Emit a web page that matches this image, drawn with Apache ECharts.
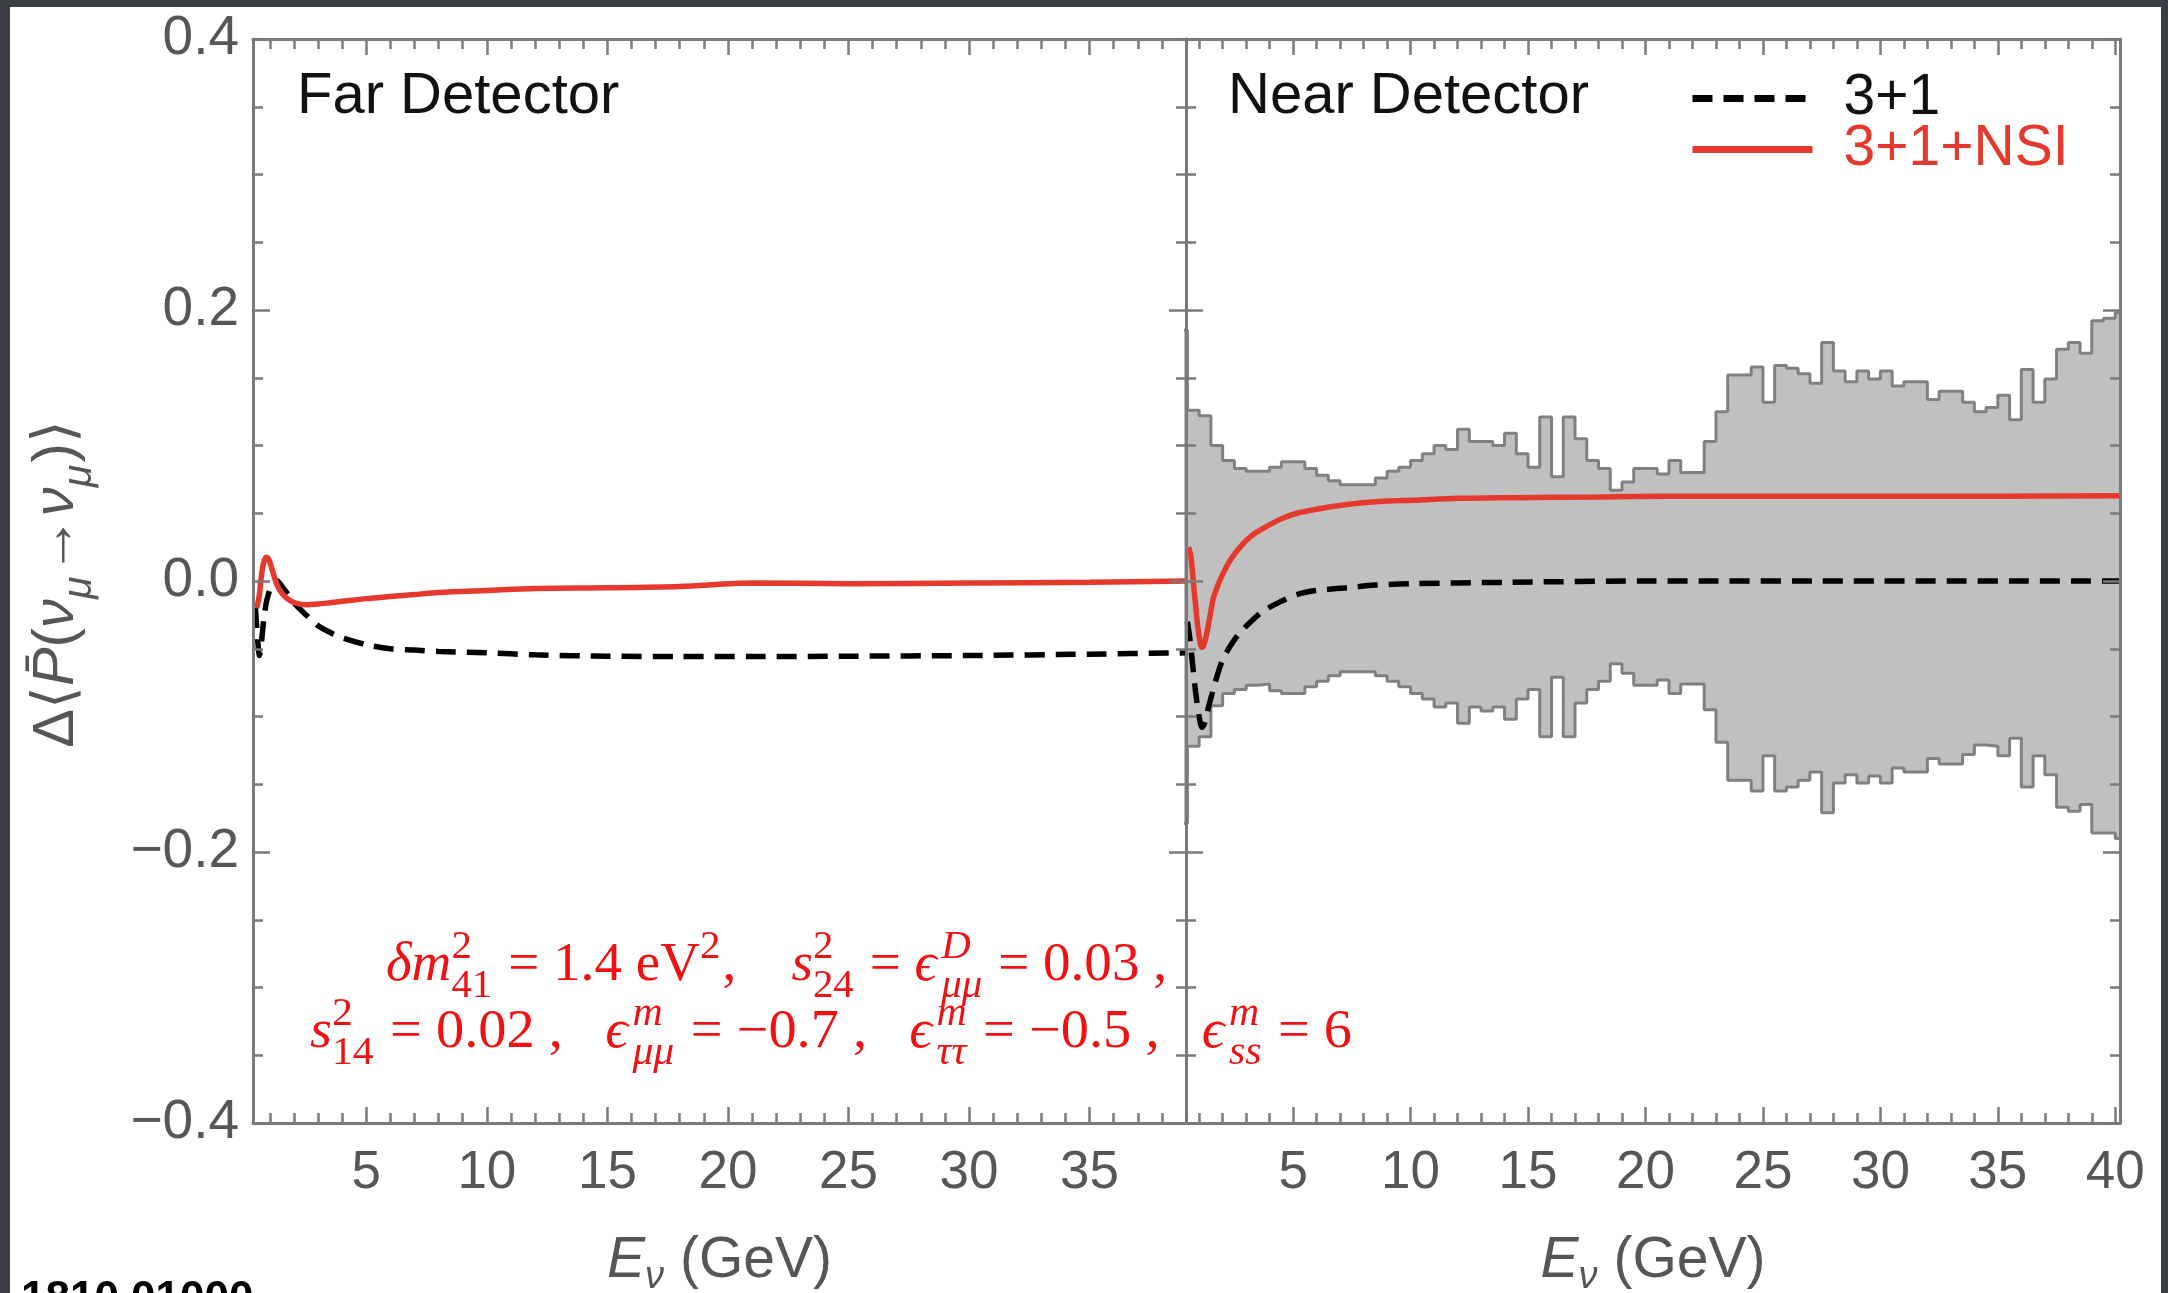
<!DOCTYPE html>
<html>
<head>
<meta charset="utf-8">
<script src="https://cdn.jsdelivr.net/npm/echarts@6/dist/echarts.min.js"></script>
<style>
html,body{margin:0;padding:0;width:2168px;height:1293px;overflow:hidden;background:#3b3e44;}
#paper{position:absolute;left:10px;top:7px;width:2151px;height:1286px;background:#ffffff;}
#chart{position:absolute;left:0;top:0;width:2168px;height:1293px;}
</style>
</head>
<body>
<div id="paper"></div>
<div id="chart"></div>
<script>
// ---------------- data ----------------
const farRange = [0.3, 39.0];
const nearRange = [0.44, 40.2];
const farTickLabels = [5, 10, 15, 20, 25, 30, 35];
const nearTickLabels = [5, 10, 15, 20, 25, 30, 35, 40];
const yTickLabels = [-0.4, -0.2, 0.0, 0.2, 0.4];

// Far detector, 3+1 (dashed black)
const farStdE = [0.4, 0.5, 0.57, 0.65, 0.75, 0.85, 0.95, 1.05, 1.2, 1.3, 1.5, 1.8, 2.1, 2.5, 3.0, 3.5, 4, 5, 6, 7, 8, 10, 12, 15, 18, 21, 25, 30, 35, 39];
const farStdV = [-0.02, -0.045, -0.055, -0.045, -0.028, -0.016, -0.009, -0.004, 0.0, 0.0, -0.004, -0.011, -0.018, -0.025, -0.033, -0.038, -0.042, -0.047, -0.050, -0.051, -0.052, -0.053, -0.0545, -0.0555, -0.0558, -0.0558, -0.0555, -0.055, -0.054, -0.053];
// Far detector, 3+1+NSI (red)
const farNsiE = [0.45, 0.55, 0.65, 0.75, 0.85, 0.95, 1.05, 1.15, 1.3, 1.5, 1.8, 2.1, 2.5, 3.0, 3.5, 4, 5, 6, 7, 8, 10, 12, 15, 18, 21, 25, 30, 35, 39];
const farNsiV = [-0.02, -0.012, 0.004, 0.014, 0.0175, 0.016, 0.011, 0.005, -0.003, -0.009, -0.014, -0.0165, -0.0175, -0.017, -0.016, -0.015, -0.013, -0.0115, -0.010, -0.0085, -0.007, -0.0055, -0.005, -0.004, -0.0015, -0.002, -0.0015, -0.001, 0.0];

// Near detector, 3+1 (dashed black)
const nearStdE = [0.5, 0.6, 0.7, 0.85, 1.0, 1.12, 1.25, 1.4, 1.6, 1.8, 2.03, 2.4, 2.74, 3.2, 3.74, 4.5, 5.16, 6, 7.3, 8.5, 10, 14, 20, 30, 40.2];
const nearStdV = [-0.03, -0.042, -0.058, -0.082, -0.1, -0.108, -0.104, -0.093, -0.08, -0.068, -0.057, -0.046, -0.038, -0.03, -0.022, -0.015, -0.01, -0.007, -0.005, -0.003, -0.002, -0.001, 0, 0, 0];
// Near detector, 3+1+NSI (red)
const nearNsiE = [0.55, 0.65, 0.75, 0.85, 0.95, 1.05, 1.12, 1.2, 1.32, 1.45, 1.6, 1.8, 2.03, 2.35, 2.74, 3.2, 3.74, 4.5, 5.16, 6, 7.3, 9, 10.1, 12, 14.4, 18, 21, 25, 30, 35, 40.2];
const nearNsiV = [0.025, 0.018, 0.0, -0.018, -0.035, -0.046, -0.049, -0.047, -0.039, -0.027, -0.013, -0.003, 0.006, 0.016, 0.025, 0.033, 0.039, 0.046, 0.050, 0.053, 0.0565, 0.059, 0.0596, 0.061, 0.0615, 0.062, 0.0625, 0.0625, 0.0625, 0.0625, 0.063];

// Near detector uncertainty band, histogram bins of width 0.5 GeV starting at 0
const BIN_WIDTH = 0.5;
const nearUpper = [0.185, 0.126, 0.122, 0.100, 0.089, 0.083, 0.081, 0.081, 0.084, 0.088, 0.088, 0.083, 0.078, 0.074, 0.071, 0.071, 0.071, 0.076, 0.081, 0.084, 0.089, 0.094, 0.100, 0.097, 0.112, 0.103, 0.103, 0.100, 0.109, 0.094, 0.084, 0.121, 0.077, 0.121, 0.105, 0.089, 0.083, 0.067, 0.073, 0.083, 0.083, 0.079, 0.089, 0.080, 0.080, 0.103, 0.125, 0.152, 0.152, 0.158, 0.132, 0.159, 0.157, 0.153, 0.146, 0.176, 0.155, 0.147, 0.155, 0.149, 0.155, 0.144, 0.147, 0.147, 0.134, 0.140, 0.140, 0.132, 0.125, 0.128, 0.137, 0.119, 0.156, 0.132, 0.149, 0.171, 0.176, 0.168, 0.192, 0.194, 0.198];
const nearLower = [-0.179, -0.122, -0.115, -0.092, -0.083, -0.080, -0.077, -0.076, -0.081, -0.083, -0.083, -0.078, -0.074, -0.070, -0.067, -0.067, -0.067, -0.070, -0.074, -0.078, -0.083, -0.087, -0.093, -0.090, -0.105, -0.093, -0.096, -0.093, -0.102, -0.087, -0.080, -0.115, -0.071, -0.115, -0.090, -0.080, -0.074, -0.061, -0.068, -0.077, -0.077, -0.073, -0.083, -0.076, -0.076, -0.095, -0.119, -0.147, -0.147, -0.155, -0.129, -0.155, -0.152, -0.147, -0.141, -0.171, -0.149, -0.143, -0.149, -0.144, -0.149, -0.138, -0.141, -0.141, -0.131, -0.135, -0.135, -0.128, -0.121, -0.122, -0.129, -0.116, -0.152, -0.129, -0.143, -0.167, -0.170, -0.165, -0.186, -0.186, -0.190];

// ---------------- style ----------------
const RED = '#e5392e';
const ANNOT_RED = '#f01212';
const TXT_GRAY = '#565656';
const AXIS_GRAY = '#7a7a7a';
const SANS = "'Liberation Sans', Arial, sans-serif";
const SERIF = "'Liberation Serif', 'Times New Roman', serif";

function pairs(xs, ys) { return xs.map((x, i) => [x, ys[i]]); }
function intsBetween(a, b) { const r = []; for (let v = Math.ceil(a); v <= Math.floor(b); v++) r.push(v); return r; }

// step (histogram) data for the band: one point per bin start, plus the closing edge
function histData(vals) {
  const d = vals.map((v, i) => [i * BIN_WIDTH, v]);
  d.push([vals.length * BIN_WIDTH, vals[vals.length - 1]]);
  return d;
}

// ---------------- axes ----------------
const tickLine = { color: AXIS_GRAY, width: 2.5 };
function xAxisDef(grid, pos, range, values, len, labels, line, name) {
  return {
    type: 'value', gridIndex: grid, position: pos, min: range[0], max: range[1], z: 6,
    axisLine: { show: line, onZero: false, lineStyle: { color: AXIS_GRAY, width: 3 } },
    axisTick: { show: true, inside: true, length: len, customValues: values, lineStyle: tickLine },
    axisLabel: labels ? { show: true, customValues: values, fontSize: 53, fontFamily: SANS, color: TXT_GRAY, margin: 24 } : { show: false },
    splitLine: { show: false },
    name: name || '',
    nameLocation: 'middle', nameGap: 103,
    nameTextStyle: {
      color: TXT_GRAY,
      rich: {
        e: { fontSize: 57, fontStyle: 'italic', fontFamily: SANS, color: TXT_GRAY, lineHeight: 70, verticalAlign: 'middle' },
        s: { fontSize: 38, fontStyle: 'italic', fontFamily: SANS, color: TXT_GRAY, lineHeight: 40, verticalAlign: 'bottom' },
        n: { fontSize: 57, fontFamily: SANS, color: TXT_GRAY, lineHeight: 70, verticalAlign: 'middle' }
      }
    }
  };
}
function yAxisDef(grid, pos, labels) {
  return {
    type: 'value', gridIndex: grid, position: pos, min: -0.4, max: 0.4, interval: 0.2, z: 6,
    axisLine: { show: true, onZero: false, lineStyle: { color: AXIS_GRAY, width: 3 } },
    axisTick: { show: true, inside: true, length: 17, lineStyle: tickLine },
    minorTick: { show: true, splitNumber: 4, length: 10, lineStyle: tickLine },
    axisLabel: labels ? {
      show: true, fontSize: 55, fontFamily: SANS, color: TXT_GRAY, margin: 14,
      formatter: v => (v < -1e-9 ? '\u2212' : '') + Math.abs(v).toFixed(1)
    } : { show: false },
    splitLine: { show: false }
  };
}
const xName = '{e|E}{s|\u03bd}{n| (GeV)}';
const xAxes = [
  xAxisDef(0, 'bottom', farRange, farTickLabels, 16, true, true, xName),
  xAxisDef(0, 'bottom', farRange, intsBetween(farRange[0], farRange[1]), 10, false, false),
  xAxisDef(0, 'top', farRange, farTickLabels, 16, false, true),
  xAxisDef(0, 'top', farRange, intsBetween(farRange[0], farRange[1]), 10, false, false),
  xAxisDef(1, 'bottom', nearRange, nearTickLabels, 16, true, true, xName),
  xAxisDef(1, 'bottom', nearRange, intsBetween(nearRange[0], nearRange[1]), 10, false, false),
  xAxisDef(1, 'top', nearRange, nearTickLabels, 16, false, true),
  xAxisDef(1, 'top', nearRange, intsBetween(nearRange[0], nearRange[1]), 10, false, false)
];
const yAxes = [
  yAxisDef(0, 'left', true),
  yAxisDef(0, 'right', false),
  yAxisDef(1, 'left', false),
  yAxisDef(1, 'right', false)
];

// ---------------- math text helper (graphic) ----------------
const measureCtx = document.createElement('canvas').getContext('2d');
function mathText(tokens, fs, family, color, subScale) {
  const sfs = Math.round(fs * (subScale || 0.7));
  const fontOf = (it, size) => (it ? 'italic ' : '') + size + 'px ' + family;
  const kids = [];
  let x = 0;
  const put = (txt, it, size, dy, px) => {
    const f = fontOf(it, size);
    kids.push({
      type: 'text', x: px, y: dy - 0.3 * size, silent: true,
      style: { text: txt, font: f, fill: color, textAlign: 'left', textVerticalAlign: 'middle', align: 'left', verticalAlign: 'middle' }
    });
    measureCtx.font = f;
    return measureCtx.measureText(txt).width;
  };
  tokens.forEach(tk => {
    if (tk.t !== undefined) {
      x += put(tk.t, tk.i, fs, 0, x) + (tk.pad || 0) * fs;
    } else {
      let w = 0;
      if (tk.sup) w = Math.max(w, put(tk.sup, tk.supI, sfs, -0.42 * fs, x));
      if (tk.sub) w = Math.max(w, put(tk.sub, tk.subI, sfs, 0.3 * fs, x));
      x += w + fs * 0.04;
    }
  });
  return { kids, width: x };
}

const annot1 = mathText([
  { t: '\u03b4m', i: true }, { sup: '2', sub: '41' },
  { t: ' = 1.4 eV' }, { sup: '2' }, { t: ',    ' },
  { t: 's', i: true }, { sup: '2', sub: '24' }, { t: ' = ' },
  { t: '\u03f5', i: true, pad: 0.08 }, { sup: 'D', supI: true, sub: '\u03bc\u03bc', subI: true },
  { t: ' = 0.03 ,' }
], 54, SERIF, ANNOT_RED, 0.74);
const annot2 = mathText([
  { t: 's', i: true }, { sup: '2', sub: '14' }, { t: ' = 0.02 ,   ' },
  { t: '\u03f5', i: true, pad: 0.08 }, { sup: 'm', supI: true, sub: '\u03bc\u03bc', subI: true }, { t: ' = \u22120.7 ,   ' },
  { t: '\u03f5', i: true, pad: 0.08 }, { sup: 'm', supI: true, sub: '\u03c4\u03c4', subI: true }, { t: ' = \u22120.5 ,   ' },
  { t: '\u03f5', i: true, pad: 0.08 }, { sup: 'm', supI: true, sub: 'ss', subI: true }, { t: ' = 6' }
], 54, SERIF, ANNOT_RED, 0.74);
const yName = mathText([
  { t: '\u0394\u27e8' }, { t: 'P\u0304', i: true }, { t: '(' }, { t: '\u03bd', i: true }, { sub: '\u03bc', subI: true },
  { t: '\u2192' }, { t: '\u03bd', i: true }, { sub: '\u03bc', subI: true }, { t: ')\u27e9' }
], 58, SANS, TXT_GRAY);

const graphics = [
  { type: 'text', x: 297, y: 97, z: 100, silent: true,
    style: { text: 'Far Detector', font: '58px ' + SANS, fill: '#111111', textAlign: 'left', textVerticalAlign: 'middle', align: 'left', verticalAlign: 'middle' } },
  { type: 'text', x: 1228, y: 97, z: 100, silent: true,
    style: { text: 'Near Detector', font: '58px ' + SANS, fill: '#111111', textAlign: 'left', textVerticalAlign: 'middle', align: 'left', verticalAlign: 'middle' } },
  { type: 'group', x: 386, y: 982, scaleX: 781 / annot1.width, z: 100, children: annot1.kids },
  { type: 'group', x: 310, y: 1049, scaleX: 1042 / annot2.width, z: 100, children: annot2.kids },
  { type: 'group', x: 74, y: 584, rotation: Math.PI / 2, z: 100,
    children: [{ type: 'group', x: -yName.width / 2, y: 0, children: yName.kids }] },
  { type: 'text', x: 21, y: 1278, z: 100, silent: true,
    style: { text: '1810.01000', font: 'bold 44px ' + SANS, fill: '#000000', textAlign: 'left', textVerticalAlign: 'top', align: 'left', verticalAlign: 'top' } }
];

// ---------------- series ----------------
const dashed = { color: '#000000', width: 5.5, type: [20, 11] };
const solidRed = { color: RED, width: 5.5 };
const bandLine = { color: '#808080', width: 3 };
const bandArea = { color: '#c0c0c0', opacity: 1, origin: 0 };
const series = [
  { name: '3+1', type: 'line', xAxisIndex: 0, yAxisIndex: 0, data: pairs(farStdE, farStdV), smooth: 0.3, showSymbol: false, symbol: 'none', lineStyle: dashed, itemStyle: { color: '#000' }, z: 4 },
  { name: '3+1+NSI', type: 'line', xAxisIndex: 0, yAxisIndex: 0, data: pairs(farNsiE, farNsiV), smooth: 0.3, showSymbol: false, symbol: 'none', lineStyle: solidRed, itemStyle: { color: RED }, z: 4 },
  { name: 'bandUpper', type: 'line', xAxisIndex: 4, yAxisIndex: 2, data: histData(nearUpper), step: 'end', showSymbol: false, symbol: 'none',
    lineStyle: bandLine, areaStyle: bandArea, z: 1 },
  { name: 'bandLower', type: 'line', xAxisIndex: 4, yAxisIndex: 2, data: histData(nearLower), step: 'end', showSymbol: false, symbol: 'none',
    lineStyle: bandLine, areaStyle: bandArea, z: 1 },
  { name: '3+1', type: 'line', xAxisIndex: 4, yAxisIndex: 2, data: pairs(nearStdE, nearStdV), smooth: 0.3, showSymbol: false, symbol: 'none', lineStyle: dashed, itemStyle: { color: '#000' }, z: 4 },
  { name: '3+1+NSI', type: 'line', xAxisIndex: 4, yAxisIndex: 2, data: pairs(nearNsiE, nearNsiV), smooth: 0.3, showSymbol: false, symbol: 'none', lineStyle: solidRed, itemStyle: { color: RED }, z: 4 }
];

const option = {
  animation: false,
  grid: [
    { left: 253, top: 39, width: 933, height: 1084, containLabel: false, outerBoundsMode: 'none' },
    { left: 1186, top: 39, width: 934, height: 1084, containLabel: false, outerBoundsMode: 'none' }
  ],
  xAxis: xAxes,
  yAxis: yAxes,
  legend: {
    left: 1684, top: 65, orient: 'vertical', itemWidth: 120, itemHeight: 14, itemGap: -6, selectedMode: false,
    itemStyle: { opacity: 0 },
    lineStyle: { width: 7 },
    textStyle: { fontSize: 57, fontFamily: SANS, lineHeight: 40, padding: [0, 0, 0, 26] },
    data: [
      { name: '3+1', textStyle: { color: '#111111' } },
      { name: '3+1+NSI', textStyle: { color: RED } }
    ]
  },
  series: series,
  graphic: graphics
};

const chart = echarts.init(document.getElementById('chart'), null, { renderer: 'canvas' });
chart.setOption(option);
</script>
</body>
</html>
